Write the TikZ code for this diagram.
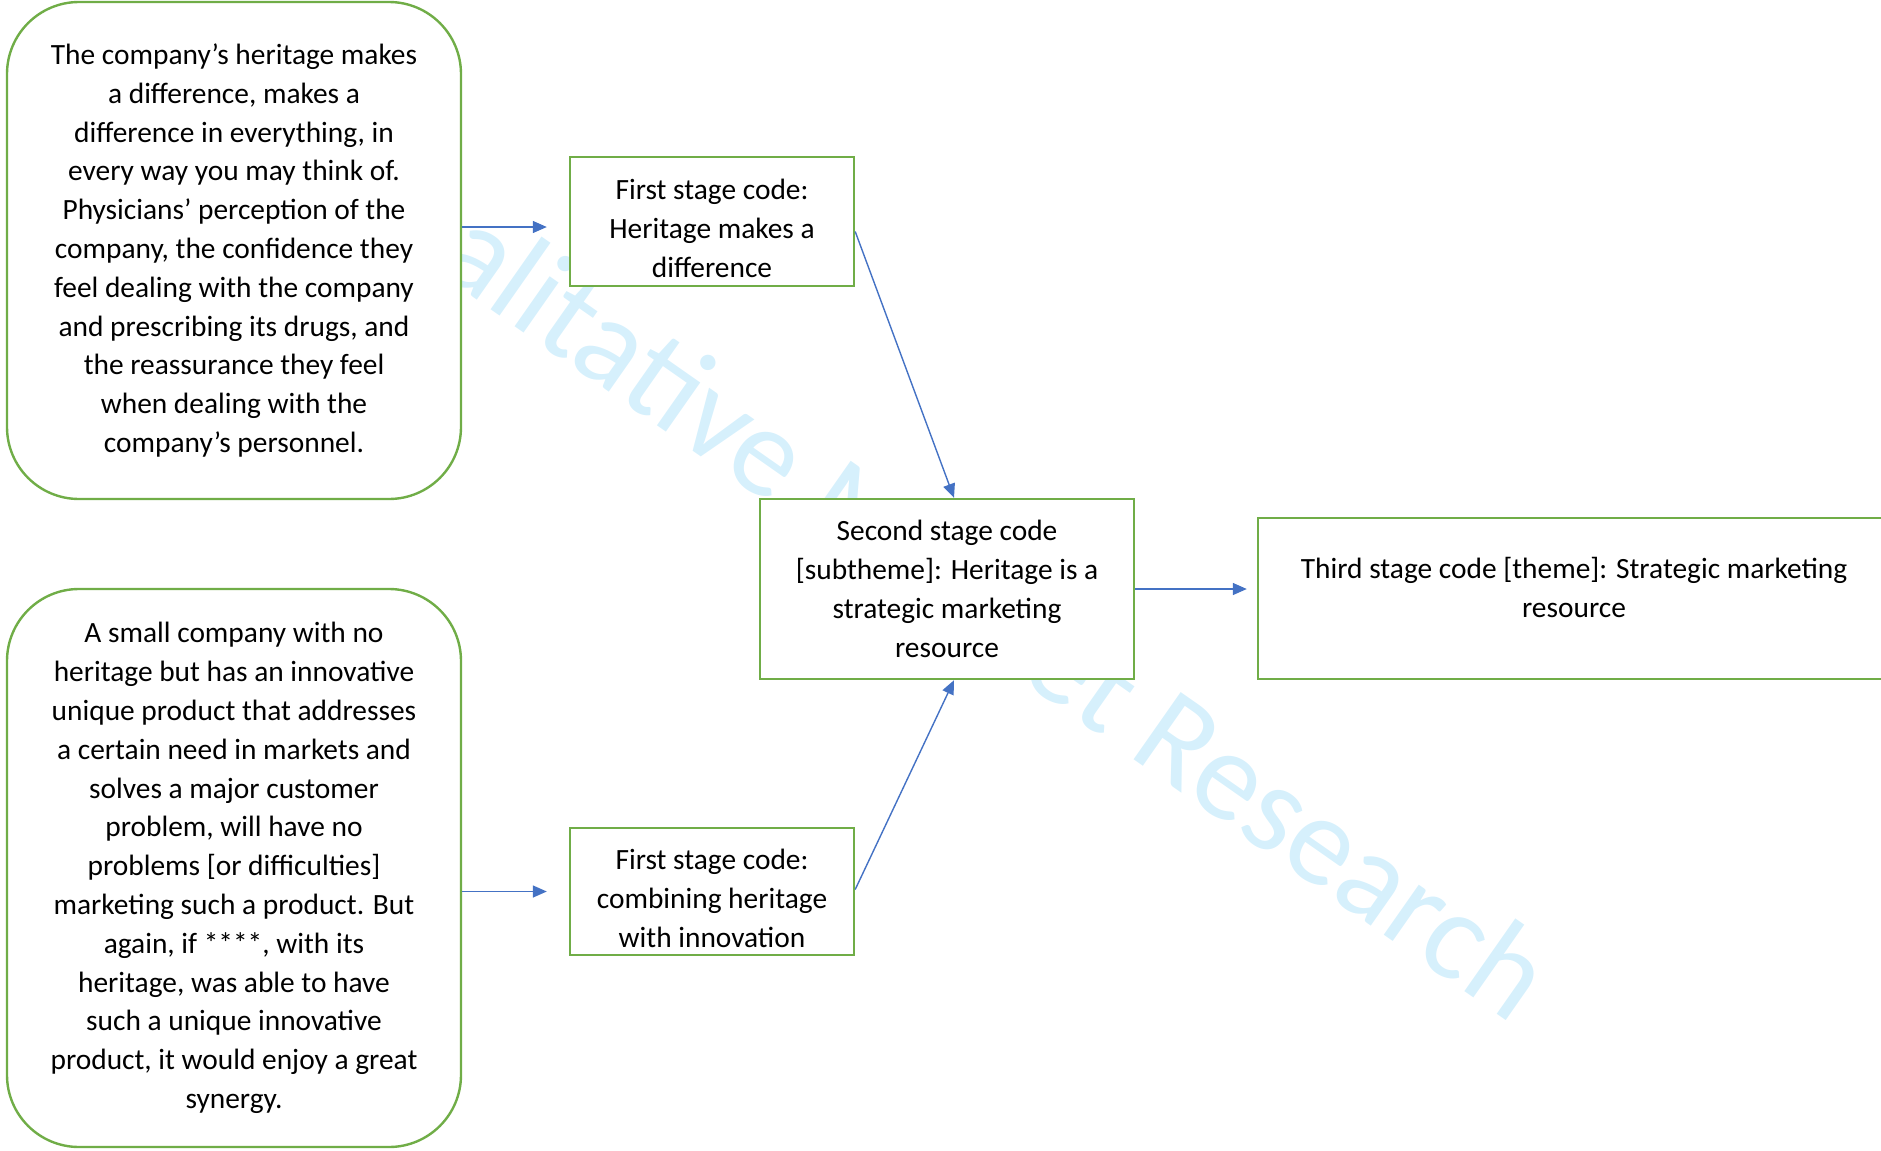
\documentclass[tikz,border=0pt]{standalone}
\usepackage{fontspec}
\setmainfont{Carlito}
\usepackage{tikz}
\usetikzlibrary{arrows.meta,positioning}

\definecolor{codegreen}{RGB}{112,173,71}
\definecolor{flowblue}{RGB}{68,114,196}
\definecolor{wmblue}{RGB}{214,240,252}

\tikzset{
  every node/.style={font=\fontsize{14.7}{19.4}\selectfont, align=center},
  quote/.style={draw=codegreen, line width=1.2pt, fill=white, rounded corners=36pt,
    inner sep=0pt},
  codebox/.style={draw=codegreen, line width=1.2pt, fill=white, inner sep=0pt},
  flow/.style={draw=flowblue, line width=0.7pt, -{Triangle[length=7pt,width=6pt]}}
}

\begin{document}
\begin{tikzpicture}[x=0.5pt,y=-0.5pt]
    % frame of the page
    \useasboundingbox (0,0) rectangle (1881,1151);
    % watermark behind the boxes
    \node[text=wmblue, font=\fontsize{64}{76}\selectfont, rotate=-35, anchor=base]
      (mark) at (910,603) {Qualitative Market Research};

    % quotes
    \node[quote, minimum width=227pt, minimum height=248.5pt] (quoteA) at (234,250.5)
      {The company’s heritage makes\\ a difference, makes a\\ difference in everything, in\\
       every way you may think of.\\ Physicians’ perception of the\\ company, the confidence they\\
       feel dealing with the company\\ and prescribing its drugs, and\\ the reassurance they feel\\
       when dealing with the\\ company’s personnel.};
    \node[quote, minimum width=227pt, minimum height=279pt] (quoteB) at (234,868)
      {A small company with no\\ heritage but has an innovative\\ unique product that addresses\\
       a certain need in markets and\\ solves a major customer\\ problem, will have no\\
       problems {[or difficulties]}\\ marketing such a product. But\\ again, if ****, with its\\
       heritage, was able to have\\ such a unique innovative\\ product, it would enjoy a great\\ synergy.};

    % codes
    \node[codebox, minimum width=142pt, minimum height=64.5pt] (codeA) at (712,221.5)
      {\rule{0pt}{17pt}First stage code:\\ Heritage makes a\\ difference};
    \node[codebox, minimum width=142pt, minimum height=63.5pt] (codeB) at (712,891.5)
      {\rule{0pt}{17pt}First stage code:\\ combining heritage\\ with innovation};
    \node[codebox, minimum width=187pt, minimum height=90pt] (sub) at (947,589)
      {Second stage code\\ {[subtheme]}: Heritage is a\\ strategic marketing\\ resource};
    \node[codebox, minimum width=316pt, minimum height=80.5pt] (theme) at (1574,598.5)
      {Third stage code [theme]: Strategic marketing\\ resource\\[-8.6pt]\mbox{}};

    % arrows
    \draw[flow, shorten >=11pt] ([yshift=-2.75pt]quoteA.east |- codeA.west) -- ([yshift=-2.75pt]codeA.west);
    \draw[flow, shorten >=11pt] (quoteB.east |- codeB.west) -- (codeB.west);
    \draw[flow] ([yshift=-5pt]codeA.east) -- ([xshift=3.5pt]sub.north);
    \draw[flow] ([yshift=1pt]codeB.east) -- ([xshift=3.5pt]sub.south);
    \draw[flow, shorten >=5pt] (sub.east) -- (sub.east -| theme.west);
\end{tikzpicture}
\end{document}
